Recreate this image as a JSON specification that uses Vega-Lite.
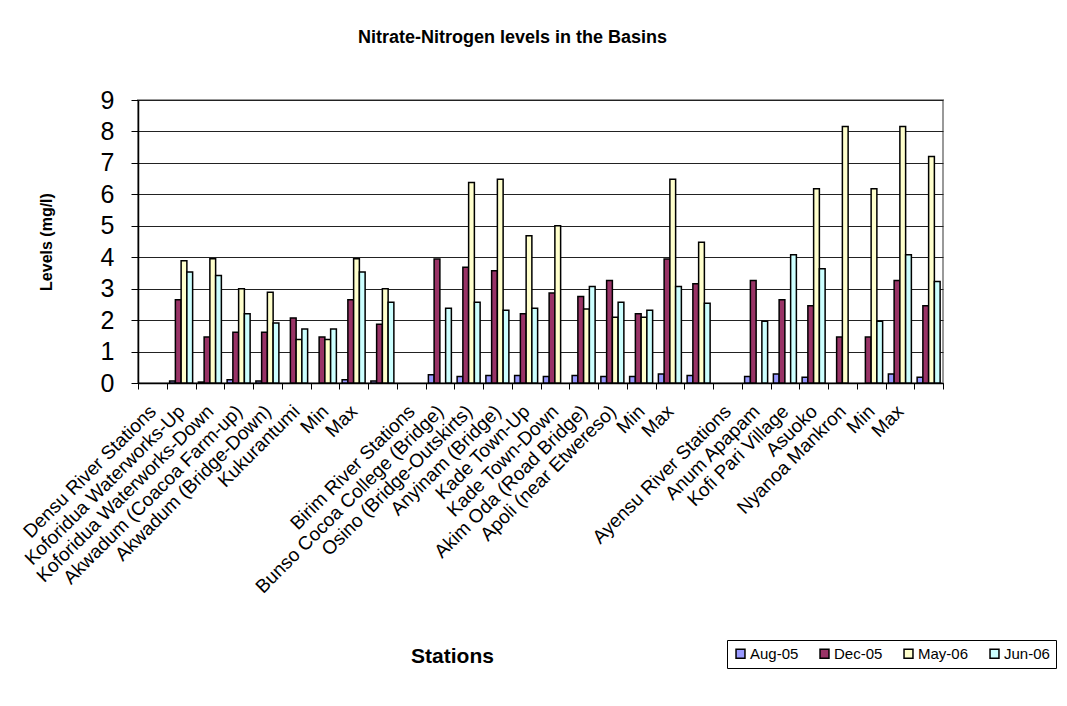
{
  "$schema": "https://vega.github.io/schema/vega-lite/v6.json",
  "width": 805,
  "height": 283,
  "autosize": {"type": "none"},
  "padding": {"left": 138, "top": 100, "right": 124, "bottom": 323},
  "background": "white",
  "title": {"text": "Nitrate-Nitrogen levels in the Basins", "font": "Liberation Sans", "fontSize": 18, "fontWeight": "bold", "color": "black", "anchor": "middle", "dx": -28, "offset": 41},
  "data": {"values": [
    {"station": "02|Koforidua Waterworks-Up", "month": "Aug-05", "value": 0.06},
    {"station": "02|Koforidua Waterworks-Up", "month": "Dec-05", "value": 2.65},
    {"station": "02|Koforidua Waterworks-Up", "month": "May-06", "value": 3.89},
    {"station": "02|Koforidua Waterworks-Up", "month": "Jun-06", "value": 3.53},
    {"station": "03|Koforidua Waterworks-Down", "month": "Aug-05", "value": 0.03},
    {"station": "03|Koforidua Waterworks-Down", "month": "Dec-05", "value": 1.46},
    {"station": "03|Koforidua Waterworks-Down", "month": "May-06", "value": 3.95},
    {"station": "03|Koforidua Waterworks-Down", "month": "Jun-06", "value": 3.42},
    {"station": "04|Akwadum (Coacoa Farm-up)", "month": "Aug-05", "value": 0.1},
    {"station": "04|Akwadum (Coacoa Farm-up)", "month": "Dec-05", "value": 1.61},
    {"station": "04|Akwadum (Coacoa Farm-up)", "month": "May-06", "value": 3.0},
    {"station": "04|Akwadum (Coacoa Farm-up)", "month": "Jun-06", "value": 2.2},
    {"station": "05|Akwadum (Bridge-Down)", "month": "Aug-05", "value": 0.06},
    {"station": "05|Akwadum (Bridge-Down)", "month": "Dec-05", "value": 1.61},
    {"station": "05|Akwadum (Bridge-Down)", "month": "May-06", "value": 2.89},
    {"station": "05|Akwadum (Bridge-Down)", "month": "Jun-06", "value": 1.91},
    {"station": "06|Kukurantumi", "month": "Dec-05", "value": 2.07},
    {"station": "06|Kukurantumi", "month": "May-06", "value": 1.38},
    {"station": "06|Kukurantumi", "month": "Jun-06", "value": 1.72},
    {"station": "07|Min", "month": "Dec-05", "value": 1.46},
    {"station": "07|Min", "month": "May-06", "value": 1.38},
    {"station": "07|Min", "month": "Jun-06", "value": 1.72},
    {"station": "08|Max", "month": "Aug-05", "value": 0.1},
    {"station": "08|Max", "month": "Dec-05", "value": 2.65},
    {"station": "08|Max", "month": "May-06", "value": 3.95},
    {"station": "08|Max", "month": "Jun-06", "value": 3.53},
    {"station": "09|", "month": "Aug-05", "value": 0.06},
    {"station": "09|", "month": "Dec-05", "value": 1.87},
    {"station": "09|", "month": "May-06", "value": 3.0},
    {"station": "09|", "month": "Jun-06", "value": 2.57},
    {"station": "11|Bunso Cocoa College (Bridge)", "month": "Aug-05", "value": 0.26},
    {"station": "11|Bunso Cocoa College (Bridge)", "month": "Dec-05", "value": 3.94},
    {"station": "11|Bunso Cocoa College (Bridge)", "month": "Jun-06", "value": 2.38},
    {"station": "12|Osino (Bridge-Outskirts)", "month": "Aug-05", "value": 0.21},
    {"station": "12|Osino (Bridge-Outskirts)", "month": "Dec-05", "value": 3.68},
    {"station": "12|Osino (Bridge-Outskirts)", "month": "May-06", "value": 6.38},
    {"station": "12|Osino (Bridge-Outskirts)", "month": "Jun-06", "value": 2.57},
    {"station": "13|Anyinam (Bridge)", "month": "Aug-05", "value": 0.24},
    {"station": "13|Anyinam (Bridge)", "month": "Dec-05", "value": 3.57},
    {"station": "13|Anyinam (Bridge)", "month": "May-06", "value": 6.48},
    {"station": "13|Anyinam (Bridge)", "month": "Jun-06", "value": 2.31},
    {"station": "14|Kade Town-Up", "month": "Aug-05", "value": 0.24},
    {"station": "14|Kade Town-Up", "month": "Dec-05", "value": 2.2},
    {"station": "14|Kade Town-Up", "month": "May-06", "value": 4.68},
    {"station": "14|Kade Town-Up", "month": "Jun-06", "value": 2.38},
    {"station": "15|Kade Town-Down", "month": "Aug-05", "value": 0.21},
    {"station": "15|Kade Town-Down", "month": "Dec-05", "value": 2.86},
    {"station": "15|Kade Town-Down", "month": "May-06", "value": 5.0},
    {"station": "16|Akim Oda (Road Bridge)", "month": "Aug-05", "value": 0.24},
    {"station": "16|Akim Oda (Road Bridge)", "month": "Dec-05", "value": 2.75},
    {"station": "16|Akim Oda (Road Bridge)", "month": "May-06", "value": 2.35},
    {"station": "16|Akim Oda (Road Bridge)", "month": "Jun-06", "value": 3.07},
    {"station": "17|Apoli (near Etwereso)", "month": "Aug-05", "value": 0.21},
    {"station": "17|Apoli (near Etwereso)", "month": "Dec-05", "value": 3.26},
    {"station": "17|Apoli (near Etwereso)", "month": "May-06", "value": 2.09},
    {"station": "17|Apoli (near Etwereso)", "month": "Jun-06", "value": 2.57},
    {"station": "18|Min", "month": "Aug-05", "value": 0.21},
    {"station": "18|Min", "month": "Dec-05", "value": 2.2},
    {"station": "18|Min", "month": "May-06", "value": 2.09},
    {"station": "18|Min", "month": "Jun-06", "value": 2.31},
    {"station": "19|Max", "month": "Aug-05", "value": 0.29},
    {"station": "19|Max", "month": "Dec-05", "value": 3.94},
    {"station": "19|Max", "month": "May-06", "value": 6.48},
    {"station": "19|Max", "month": "Jun-06", "value": 3.07},
    {"station": "20|", "month": "Aug-05", "value": 0.24},
    {"station": "20|", "month": "Dec-05", "value": 3.16},
    {"station": "20|", "month": "May-06", "value": 4.48},
    {"station": "20|", "month": "Jun-06", "value": 2.54},
    {"station": "22|Anum Apapam", "month": "Aug-05", "value": 0.21},
    {"station": "22|Anum Apapam", "month": "Dec-05", "value": 3.26},
    {"station": "22|Anum Apapam", "month": "Jun-06", "value": 1.96},
    {"station": "23|Kofi Pari Village", "month": "Aug-05", "value": 0.29},
    {"station": "23|Kofi Pari Village", "month": "Dec-05", "value": 2.65},
    {"station": "23|Kofi Pari Village", "month": "Jun-06", "value": 4.08},
    {"station": "24|Asuoko", "month": "Aug-05", "value": 0.18},
    {"station": "24|Asuoko", "month": "Dec-05", "value": 2.46},
    {"station": "24|Asuoko", "month": "May-06", "value": 6.18},
    {"station": "24|Asuoko", "month": "Jun-06", "value": 3.63},
    {"station": "25|Nyanoa Mankron", "month": "Dec-05", "value": 1.46},
    {"station": "25|Nyanoa Mankron", "month": "May-06", "value": 8.16},
    {"station": "26|Min", "month": "Dec-05", "value": 1.46},
    {"station": "26|Min", "month": "May-06", "value": 6.18},
    {"station": "26|Min", "month": "Jun-06", "value": 1.96},
    {"station": "27|Max", "month": "Aug-05", "value": 0.29},
    {"station": "27|Max", "month": "Dec-05", "value": 3.26},
    {"station": "27|Max", "month": "May-06", "value": 8.16},
    {"station": "27|Max", "month": "Jun-06", "value": 4.08},
    {"station": "28|", "month": "Aug-05", "value": 0.18},
    {"station": "28|", "month": "Dec-05", "value": 2.46},
    {"station": "28|", "month": "May-06", "value": 7.2},
    {"station": "28|", "month": "Jun-06", "value": 3.23}
  ]},
  "mark": {"type": "bar", "stroke": "black", "strokeWidth": 1.5},
  "encoding": {
    "x": {
      "field": "station", "type": "nominal",
      "scale": {"domain": ["01|Densu River Stations", "02|Koforidua Waterworks-Up", "03|Koforidua Waterworks-Down", "04|Akwadum (Coacoa Farm-up)", "05|Akwadum (Bridge-Down)", "06|Kukurantumi", "07|Min", "08|Max", "09|", "10|Birim River Stations", "11|Bunso Cocoa College (Bridge)", "12|Osino (Bridge-Outskirts)", "13|Anyinam (Bridge)", "14|Kade Town-Up", "15|Kade Town-Down", "16|Akim Oda (Road Bridge)", "17|Apoli (near Etwereso)", "18|Min", "19|Max", "20|", "21|Ayensu River Stations", "22|Anum Apapam", "23|Kofi Pari Village", "24|Asuoko", "25|Nyanoa Mankron", "26|Min", "27|Max", "28|"], "paddingInner": 0, "paddingOuter": 0},
      "axis": {
        "title": "Stations", "titleFont": "Liberation Sans", "titleFontSize": 21, "titleFontWeight": "bold", "titleColor": "black",
        "titleX": 314, "titleY": 273, "titleBaseline": "middle", "titleAlign": "center", "titleAngle": 0,
        "labelExpr": "split(datum.label, '|')[1]",
        "labelAngle": -45, "labelAlign": "right", "labelBaseline": "middle",
        "labelFont": "Liberation Sans", "labelFontSize": 19, "labelColor": "black",
        "labelPadding": 19, "labelLimit": 400, "labelOverlap": false,
        "tickBand": "extent", "tickSize": 6, "tickColor": "black", "tickWidth": 1,
        "domainColor": "black", "domainWidth": 1.5, "grid": false
      }
    },
    "xOffset": {"field": "month", "type": "nominal", "scale": {"domain": ["Aug-05", "Dec-05", "May-06", "Jun-06"], "paddingInner": 0, "paddingOuter": 0.5}},
    "y": {
      "field": "value", "type": "quantitative",
      "scale": {"domain": [0, 9], "nice": false},
      "axis": {
        "title": "Levels (mg/l)", "titleFont": "Liberation Sans", "titleFontSize": 16, "titleFontWeight": "bold", "titleColor": "black", "titlePadding": 46,
        "values": [0, 1, 2, 3, 4, 5, 6, 7, 8, 9],
        "labelFont": "Liberation Sans", "labelFontSize": 25, "labelColor": "black", "labelPadding": 17,
        "tickSize": 7, "tickColor": "black", "domainColor": "black", "domainWidth": 1.5,
        "grid": true, "gridColor": "#222", "gridWidth": 1
      }
    },
    "color": {
      "field": "month", "type": "nominal",
      "scale": {"domain": ["Aug-05", "Dec-05", "May-06", "Jun-06"], "range": ["#9999FF", "#993366", "#FFFFCC", "#CCFFFF"]},
      "legend": {
        "orient": "none", "legendX": 589, "legendY": 540, "direction": "horizontal", "columns": 4, "title": null,
        "symbolType": "square", "symbolSize": 80, "symbolStrokeColor": "black", "symbolStrokeWidth": 1.5,
        "labelFont": "Liberation Sans", "labelFontSize": 15, "labelColor": "black", "labelOffset": 2,
        "strokeColor": "black", "fillColor": "white", "padding": 6, "columnPadding": 18
      }
    }
  },
  "config": {"view": {"stroke": "#999", "strokeWidth": 2}}
}
